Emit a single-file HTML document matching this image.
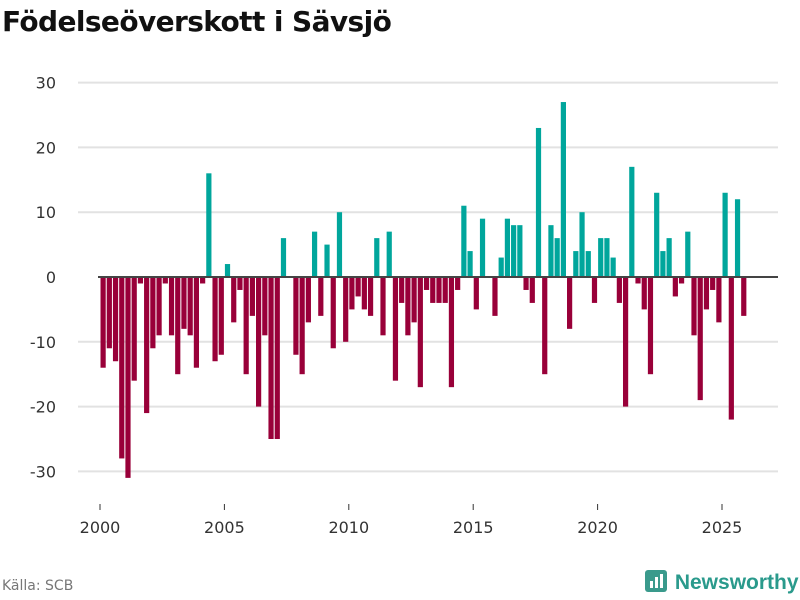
<!DOCTYPE html>
<html><head><meta charset="utf-8"><style>
body{margin:0;background:#fff;font-family:"DejaVu Sans","Liberation Sans",sans-serif;}
#wrap{position:relative;width:800px;height:600px;overflow:hidden;}
#title{position:absolute;left:2px;top:5px;font-size:28px;font-weight:bold;color:#111;letter-spacing:-0.6px;white-space:nowrap;}
#src{position:absolute;left:2px;top:578px;font-size:14px;color:#777;}
#logo{position:absolute;left:645px;top:568px;font-family:"Liberation Sans",sans-serif;font-size:21px;font-weight:bold;color:#2a9a8c;white-space:nowrap;}
</style></head><body>
<div id="wrap">
<div id="title">Födelseöverskott i Sävsjö</div>
<svg id="chart" width="800" height="600" style="position:absolute;left:0;top:0"></svg>
<div id="src">Källa: SCB</div>
<div id="logo"><svg width="24" height="26" style="vertical-align:-5px"><rect x="0" y="2" width="22" height="22" rx="3" fill="#3a9a8c"/><rect x="5" y="13" width="3" height="7" fill="#fff"/><rect x="10" y="9" width="3" height="11" fill="#fff"/><rect x="15" y="6" width="3" height="14" fill="#fff"/></svg> Newsworthy</div>
</div>
<script>
const values=[-14,-11,-13,-28,-31,-16,-1,-21,-11,-9,-1,-9,-15,-8,-9,-14,-1,16,-13,-12,2,-7,-2,-15,-6,-20,-9,-25,-25,6,0,-12,-15,-7,7,-6,5,-11,10,-10,-5,-3,-5,-6,6,-9,7,-16,-4,-9,-7,-17,-2,-4,-4,-4,-17,-2,11,4,-5,9,0,-6,3,9,8,8,-2,-4,23,-15,8,6,27,-8,4,10,4,-4,6,6,3,-4,-20,17,-1,-5,-15,13,4,6,-3,-1,7,-9,-19,-5,-2,-7,13,-22,12,-6];
const startYear=2000;
const yTicks=[-30,-20,-10,0,10,20,30];
const xTicks=[2000,2005,2010,2015,2020,2025];
const svg=document.getElementById('chart');
const NS='http://www.w3.org/2000/svg';
function x(t){return 100+(t-2000)*24.88;}
function y(v){return 277-v*6.48;}
function mk(tag,attrs){const e=document.createElementNS(NS,tag);for(const k in attrs)e.setAttribute(k,attrs[k]);svg.appendChild(e);return e;}
yTicks.forEach(t=>{
  if(t!==0){const g=mk('line',{x1:78,x2:778,y1:y(t),y2:y(t),stroke:'#e2e2e2','stroke-width':2});
  
  }
  const l=mk('text',{x:56,y:y(t)+6,'text-anchor':'end','font-size':16,fill:'#333','font-family':'DejaVu Sans, Liberation Sans, sans-serif'});
  l.textContent=t;
  
  
});
xTicks.forEach(t=>{
  const l=mk('text',{x:x(t),y:533,'text-anchor':'middle','font-size':16,fill:'#333','font-family':'DejaVu Sans, Liberation Sans, sans-serif'});
  l.textContent=t;
  
  
  const tk=mk('line',{x1:x(t),x2:x(t),y1:504,y2:510,stroke:'#333','stroke-width':1});
  
  
});
values.forEach((v,i)=>{
  const t=startYear+i*0.25+0.125;
  const cx=x(t);
  const top=Math.min(y(v),y(0)),h=Math.abs(y(v)-y(0));
  const r=mk('rect',{x:cx-2.6,y:top,width:5.2,height:h,fill:v>=0?'#00a69c':'#990039'});
  
  
});
const z=mk('line',{x1:98,x2:778,y1:y(0),y2:y(0),stroke:'#444','stroke-width':2});


</script>
</body></html>
